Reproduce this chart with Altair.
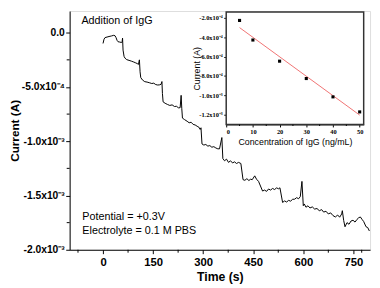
import altair as alt
import pandas as pd

# ---- main trace: time (s) and current (units of 1e-4 A) ----
time_s = [0, 3, 6, 12, 18, 25, 32, 36, 39, 42, 45, 50, 55, 57, 58.5, 60, 63, 66, 71, 78, 85, 92, 98, 103, 106,
          109, 111, 113, 118, 125, 132, 140, 146, 152, 158, 164, 170, 174, 176.5, 178, 180, 186, 193, 200, 207,
          214, 220, 226, 231, 234, 236, 238, 244, 252, 258, 264, 270, 276, 282, 287, 291, 293.5, 296.5, 302,
          308, 314, 320, 326, 332, 338, 344, 349, 356, 359, 364, 370, 376, 382, 388, 394, 400, 406, 413, 419.5,
          425, 431, 437, 442, 447, 454.5, 460, 466, 478, 484, 490, 496, 502, 508, 514, 520, 526, 530, 538, 544,
          550, 556, 562, 568, 574, 580, 586, 591, 596, 600, 603, 608, 614, 620, 627, 634, 641, 648, 655, 661,
          668, 675, 682, 689, 696, 703, 709, 715, 717, 721, 725, 731, 737, 743, 749, 755, 761, 766, 771, 776,
          781, 788, 793, 798]
current = [-0.99, -0.6, -0.45, -0.40, -0.35, -0.30, -0.24, -0.28, -0.45, -0.70, -0.83, -0.86, -0.90, -0.88,
           -0.50, -1.6, -2.18, -2.35, -2.48, -2.55, -2.62, -2.70, -2.78, -2.85, -2.93,
           -2.5, -3.6, -4.13, -4.35, -4.51, -4.55, -4.62, -4.68, -4.65, -4.78, -4.82, -4.80, -4.75, -4.5, -5.6,
           -6.37, -6.5, -6.61, -6.70, -6.65, -6.80, -6.78, -6.92, -6.91, -5.77, -7.0, -7.87, -8.0, -8.16, -8.3,
           -8.25, -8.45, -8.5, -8.62, -8.7, -8.91, -8.76, -10.25, -10.35, -10.3, -10.45, -10.4, -10.55, -10.5,
           -10.62, -10.7, -10.70, -9.66, -11.6, -11.8, -11.65, -11.95, -11.8, -12.0, -11.9, -12.05, -11.95,
           -12.05, -13.54, -13.6, -13.45, -13.62, -13.5, -13.54, -13.19, -13.5, -13.70, -14.59, -14.5, -14.62,
           -14.4, -14.5, -14.35, -14.45, -14.3, -14.38, -14.29, -15.64, -15.5, -15.6, -15.45, -15.52, -15.35,
           -15.34, -15.2, -15.3, -15.10, -13.70, -15.94, -15.78, -16.08, -15.95, -16.15, -16.05, -16.25, -16.2,
           -16.4, -16.3, -16.53, -16.45, -16.7, -16.6, -16.85, -16.98, -16.8, -17.0, -16.7, -16.4, -17.3,
           -17.88, -17.5, -17.65, -17.35, -17.28, -17.45, -17.2, -17.05, -16.98, -17.2, -17.4, -17.88, -17.95,
           -18.27]

# ---- inset: calibration ----
conc = [5, 10, 20, 30, 40, 50]
inset_current = [-2.27, -4.29, -6.47, -8.26, -10.15, -11.7]
fit_conc = [5, 50]
fit_current = [-3.01, -12.03]

# ---- axis ticks / labels ----
x_ticks = [0, 150, 300, 450, 600, 750]
x_minor = [-75, 75, 225, 375, 525, 675, 775]
y_ticks = [-20, -15, -10, -5, 0]
y_labels = ["-2.0x10⁻³", "-1.5x10⁻³", "-1.0x10⁻³", "-5.0x10⁻⁴", "0.0"]
y_minor = [-17.5, -12.5, -7.5, -2.5]
ix_ticks = [0, 10, 20, 30, 40, 50]
ix_minor = [5, 15, 25, 35, 45]
iy_ticks = [-2, -4, -6, -8, -10, -12]
iy_labels = ["-2.0x10⁻⁴", "-4.0x10⁻⁴", "-6.0x10⁻⁴", "-8.0x10⁻⁴", "-1.0x10⁻³", "-1.2x10⁻³"]


def label_expr(vals, labs):
    expr = "''"
    for v, l in zip(vals, labs):
        expr = f"datum.value == {v} ? '{l}' : ({expr})"
    return expr


W, H = 307, 244
IL, IR, IT, IB = 160, 300.5, 1, 116  # inset box in plot pixels

SANS = "Liberation Sans"
SERIF = "Liberation Serif"

x_main = alt.X("t:Q", scale=alt.Scale(domain=[-100, 800], nice=False, zero=False),
               axis=alt.Axis(values=x_ticks, title="Time (s)", labelFont=SANS, labelFontWeight="bold",
                             labelFontSize=11.5, titleFont=SANS, titleFontWeight="bold", titleFontSize=12.5,
                             tickSize=4, labelPadding=3, titlePadding=3, grid=False,
                             domainColor="black", tickColor="black", labelColor="black", titleColor="black"))
y_main = alt.Y("I:Q", scale=alt.Scale(domain=[-20, 2], nice=False, zero=False),
               axis=alt.Axis(values=y_ticks, labelExpr=label_expr(y_ticks, y_labels), title="Current (A)",
                             labelFont=SANS, labelFontWeight="bold", labelFontSize=10.5, titleFont=SANS,
                             titleFontWeight="bold", titleFontSize=12, tickSize=4, labelPadding=1.5,
                             titleX=-49, titleBaseline="bottom", titleAngle=270,
                             grid=False, domainColor="black", tickColor="black",
                             labelColor="black", titleColor="black"))

main_df = pd.DataFrame({"t": time_s, "I": current})
line = alt.Chart(main_df).mark_line(color="black", strokeWidth=1, interpolate="linear").encode(x=x_main, y=y_main)

xm = alt.Chart(pd.DataFrame({"t": x_minor})).mark_rule(color="black", strokeWidth=1).encode(
    x=x_main, y=alt.value(H), y2=alt.value(H + 3))
ym = alt.Chart(pd.DataFrame({"I": y_minor})).mark_rule(color="black", strokeWidth=1).encode(
    y=y_main, x=alt.value(-3), x2=alt.value(0))

one = alt.Data(values=[{"a": 1}])
txt_style = dict(font=SANS, fontSize=11, align="left", baseline="middle", color="black")
t1 = alt.Chart(one).mark_text(**txt_style).encode(x=alt.value(12), y=alt.value(10), text=alt.value("Addition of IgG"))
t2 = alt.Chart(one).mark_text(**txt_style).encode(x=alt.value(13), y=alt.value(211), text=alt.value("Potential = +0.3V"))
t3 = alt.Chart(one).mark_text(**txt_style).encode(x=alt.value(13), y=alt.value(225), text=alt.value("Electrolyte = 0.1 M PBS"))
frame = alt.Chart(one).mark_rect(fill="white", stroke="#333333", strokeWidth=1.5).encode(
    x=alt.value(IL), x2=alt.value(IR), y=alt.value(IT), y2=alt.value(IB))

main = alt.layer(line, xm, ym, frame, t1, t2, t3)

x_in = alt.X("c:Q", scale=alt.Scale(domain=[0, 51.5], range=[IL, IR], nice=False, zero=False),
             axis=alt.Axis(orient="bottom", offset=-(H - IB), values=ix_ticks, title="Concentration of IgG (ng/mL)",
                           labelFont=SERIF, labelFontWeight="bold", labelFontSize=6.5, titleFont=SANS,
                           titleFontWeight="normal", titleFontSize=9, tickSize=2.5, labelPadding=1.5,
                           titlePadding=3, grid=False, domainColor="#333333", tickColor="black",
                           labelColor="black", titleColor="black"))
y_in = alt.Y("v:Q", scale=alt.Scale(domain=[-13.0, -1.4], range=[IB, IT], nice=False, zero=False),
             axis=alt.Axis(orient="left", offset=-IL, values=iy_ticks, labelExpr=label_expr(iy_ticks, iy_labels),
                           title="Current (A)", labelFont=SERIF, labelFontWeight="bold", labelFontSize=6.5,
                           titleFont=SANS, titleFontWeight="normal", titleFontSize=9, tickSize=2.5,
                           labelPadding=1.5, titleX=-25, titleBaseline="bottom", titleAngle=270,
                           grid=False, domainColor="#333333",
                           tickColor="black", labelColor="black", titleColor="black"))

fit = alt.Chart(pd.DataFrame({"c": fit_conc, "v": fit_current})).mark_line(color="#f07272", strokeWidth=1).encode(
    x=x_in, y=y_in)
pts = alt.Chart(pd.DataFrame({"c": conc, "v": inset_current})).mark_square(color="black", size=10, opacity=1).encode(
    x=x_in, y=y_in)
ixm = alt.Chart(pd.DataFrame({"c": ix_minor})).mark_rule(color="black", strokeWidth=1).encode(
    x=x_in, y=alt.value(IB), y2=alt.value(IB + 1.5))

inset = alt.layer(fit, pts, ixm)

chart = alt.layer(main, inset).resolve_scale(x="independent", y="independent").properties(
    width=W, height=H,
    autosize=alt.AutoSizeParams(type="none"),
    padding={"left": 63, "top": 0, "right": 2, "bottom": 36},
).configure_view(stroke="black", strokeWidth=1.3).configure(background="white")

chart.save("out.html", embed_options={"renderer": "svg", "actions": False})
